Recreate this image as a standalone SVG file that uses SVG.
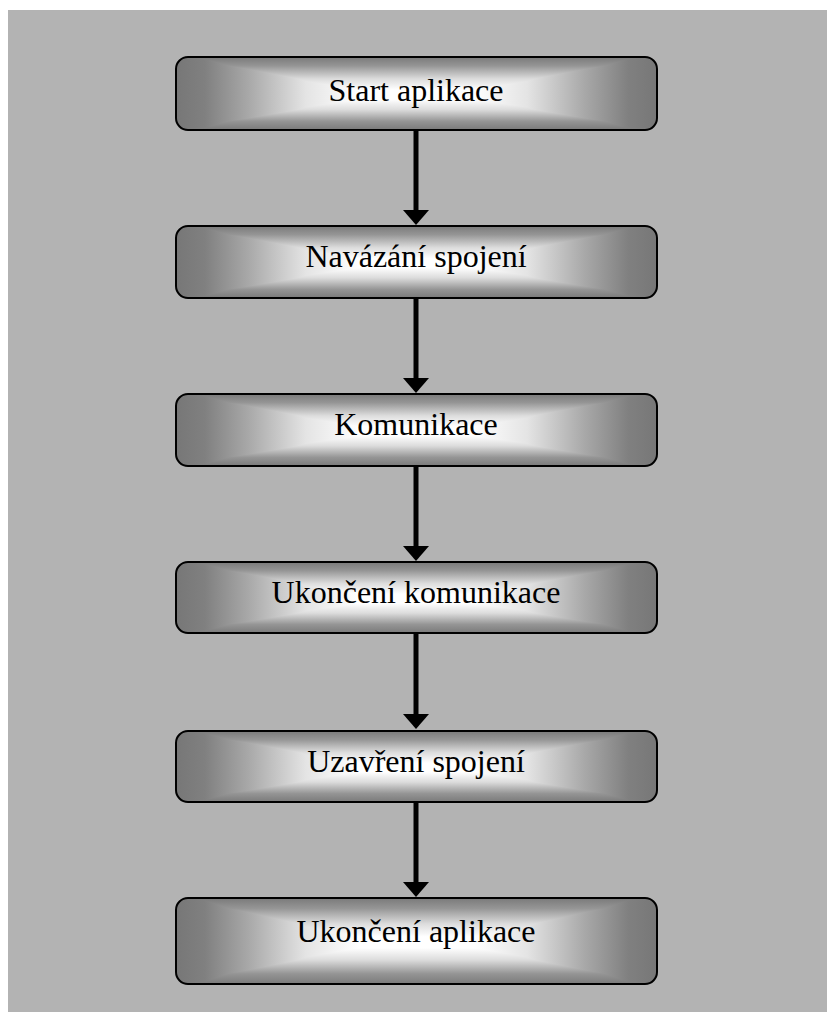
<svg xmlns="http://www.w3.org/2000/svg" width="827" height="1012" viewBox="0 0 827 1012">
<style>
.shade{isolation:isolate}
.h{fill:url(#gh)}
.v{fill:url(#gv);mix-blend-mode:darken}
.edge{fill:none;stroke:#000;stroke-width:2}
.lbl{font-family:"Liberation Serif","Times New Roman",serif;font-size:32px;fill:#000;text-anchor:middle}
.conn line{stroke:#000;stroke-width:5}
.conn polygon{fill:#000}
</style>
<defs>
<linearGradient id="gh" x1="0" y1="0" x2="1" y2="0">
<stop offset="0" stop-color="#777"/>
<stop offset="0.06" stop-color="#808080"/>
<stop offset="0.15" stop-color="#a8a8a8"/>
<stop offset="0.27" stop-color="#e4e4e4"/>
<stop offset="0.38" stop-color="#fff"/>
<stop offset="0.62" stop-color="#fff"/>
<stop offset="0.73" stop-color="#e4e4e4"/>
<stop offset="0.85" stop-color="#a8a8a8"/>
<stop offset="0.94" stop-color="#808080"/>
<stop offset="1" stop-color="#777"/>
</linearGradient>
<linearGradient id="gv" x1="0" y1="0" x2="0" y2="1">
<stop offset="0" stop-color="#7a7a7a"/>
<stop offset="0.12" stop-color="#959595"/>
<stop offset="0.3" stop-color="#dcdcdc"/>
<stop offset="0.45" stop-color="#fff"/>
<stop offset="0.58" stop-color="#fff"/>
<stop offset="0.72" stop-color="#dcdcdc"/>
<stop offset="0.88" stop-color="#959595"/>
<stop offset="1" stop-color="#7a7a7a"/>
</linearGradient>
</defs>
<rect x="8" y="10" width="819" height="1002" fill="#b3b3b3"/>
<g id="connectors" class="conn">
<line x1="416" y1="131" x2="416" y2="212"/><polygon points="403,210 429,210 416,225"/>
<line x1="416" y1="299" x2="416" y2="380"/><polygon points="403,378 429,378 416,393"/>
<line x1="416" y1="467" x2="416" y2="548"/><polygon points="403,546 429,546 416,561"/>
<line x1="416" y1="634" x2="416" y2="716"/><polygon points="403,714 429,714 416,729"/>
<line x1="416" y1="803" x2="416" y2="884"/><polygon points="403,882 429,882 416,897"/>
</g>
<g id="n1">
<g class="shade"><rect class="h" x="176" y="57" width="481" height="73" rx="12"/><rect class="v" x="176" y="57" width="481" height="73" rx="12"/></g>
<rect class="edge" x="176" y="57" width="481" height="73" rx="12"/>
<text class="lbl" x="416" y="101">Start aplikace</text>
</g>
<g id="n2">
<g class="shade"><rect class="h" x="176" y="226" width="481" height="72" rx="12"/><rect class="v" x="176" y="226" width="481" height="72" rx="12"/></g>
<rect class="edge" x="176" y="226" width="481" height="72" rx="12"/>
<text class="lbl" x="416" y="267">Navázání spojení</text>
</g>
<g id="n3">
<g class="shade"><rect class="h" x="176" y="394" width="481" height="72" rx="12"/><rect class="v" x="176" y="394" width="481" height="72" rx="12"/></g>
<rect class="edge" x="176" y="394" width="481" height="72" rx="12"/>
<text class="lbl" x="416" y="435">Komunikace</text>
</g>
<g id="n4">
<g class="shade"><rect class="h" x="176" y="562" width="481" height="71" rx="12"/><rect class="v" x="176" y="562" width="481" height="71" rx="12"/></g>
<rect class="edge" x="176" y="562" width="481" height="71" rx="12"/>
<text class="lbl" x="416" y="603">Ukončení komunikace</text>
</g>
<g id="n5">
<g class="shade"><rect class="h" x="176" y="731" width="481" height="71" rx="12"/><rect class="v" x="176" y="731" width="481" height="71" rx="12"/></g>
<rect class="edge" x="176" y="731" width="481" height="71" rx="12"/>
<text class="lbl" x="416" y="772">Uzavření spojení</text>
</g>
<g id="n6">
<g class="shade"><rect class="h" x="176" y="898" width="481" height="86" rx="12"/><rect class="v" x="176" y="898" width="481" height="86" rx="12"/></g>
<rect class="edge" x="176" y="898" width="481" height="86" rx="12"/>
<text class="lbl" x="416" y="942">Ukončení aplikace</text>
</g>
</svg>
